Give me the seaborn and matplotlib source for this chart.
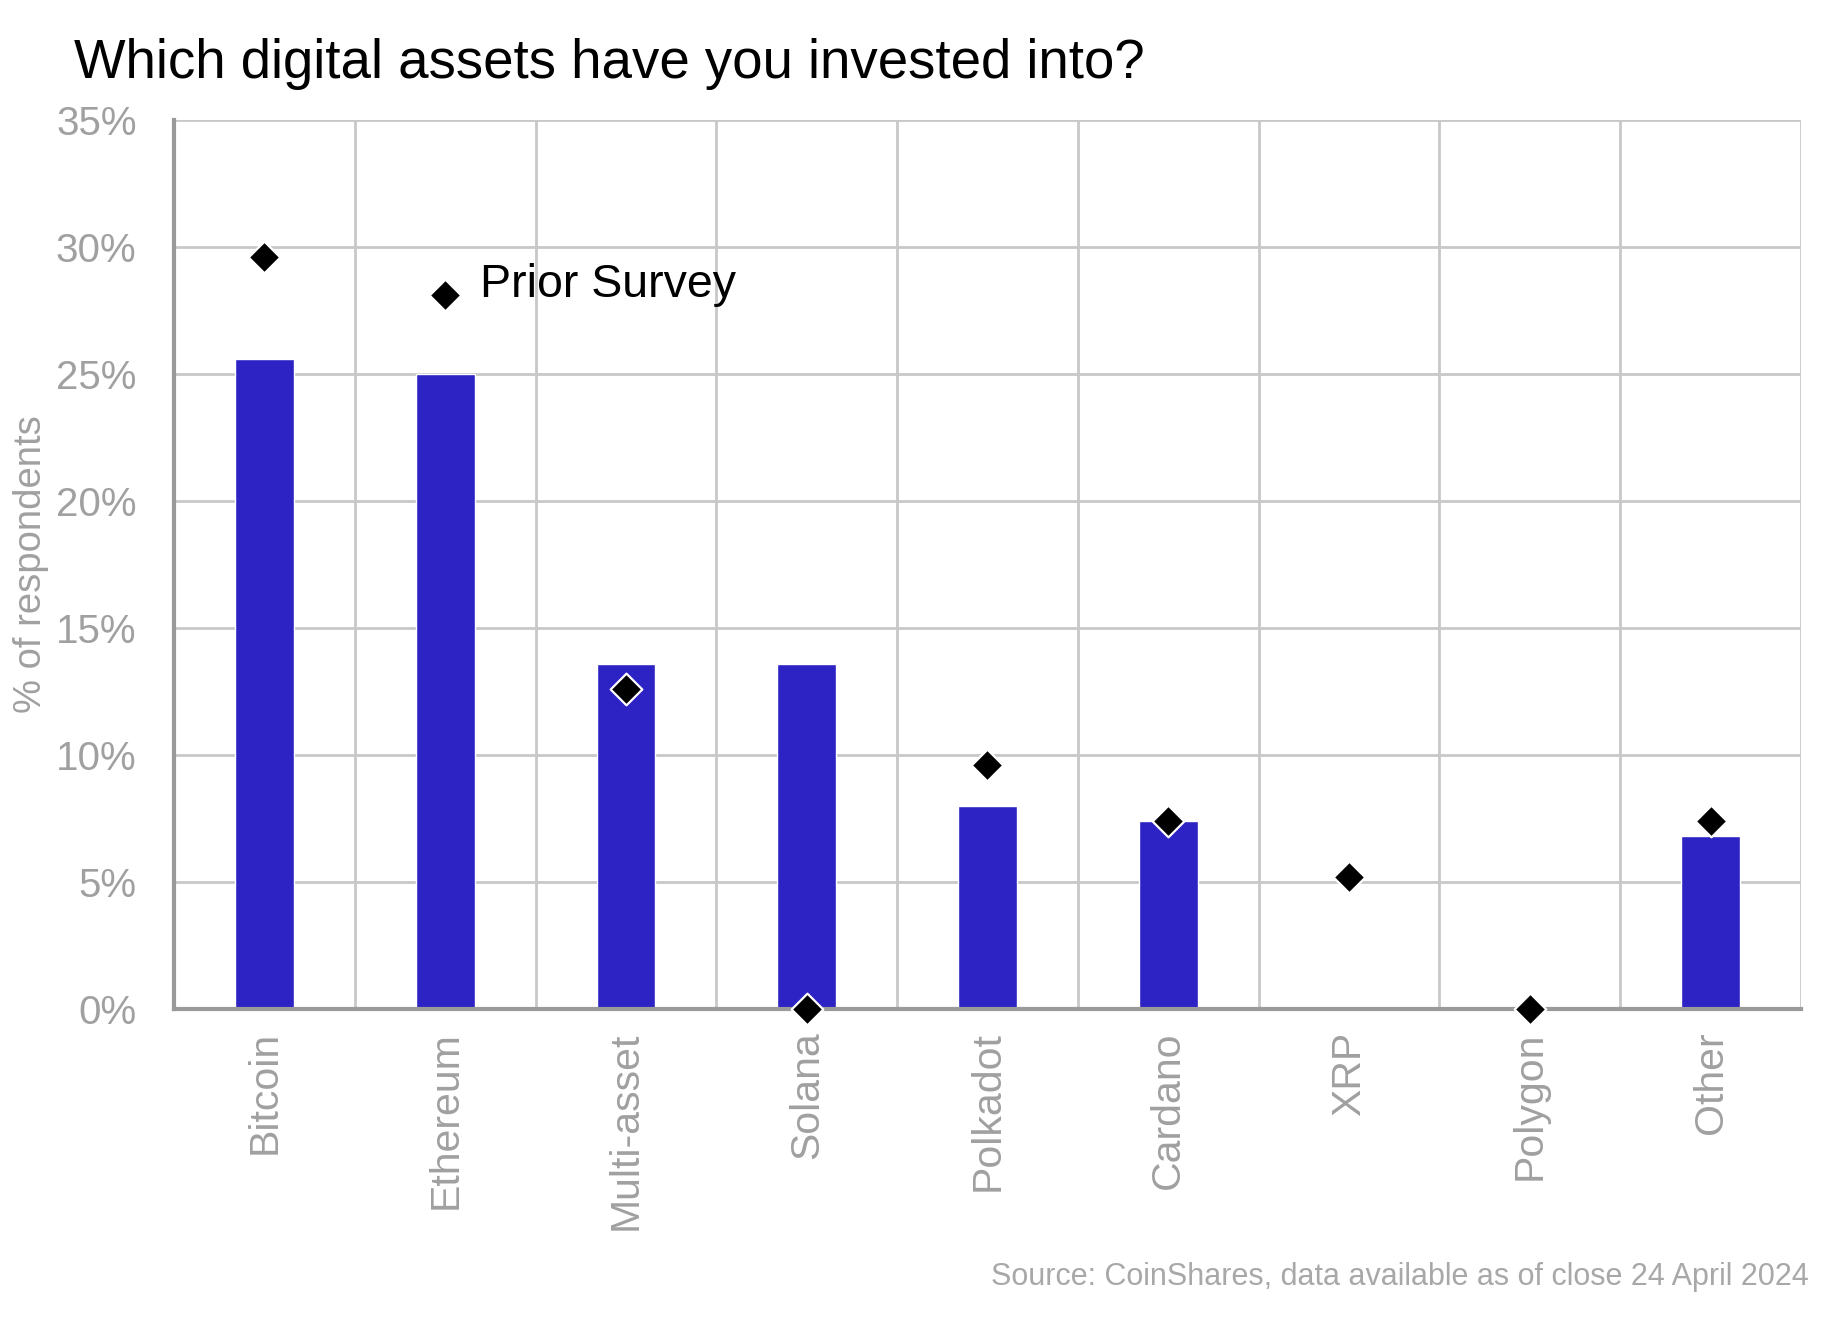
import matplotlib
matplotlib.use("Agg")
import matplotlib.pyplot as plt
import seaborn as sns
import pandas as pd
import numpy as np

categories = ["Bitcoin", "Ethereum", "Multi-asset", "Solana", "Polkadot",
              "Cardano", "XRP", "Polygon", "Other"]
current = [25.6, 25.0, 13.6, 13.6, 8.0, 7.4, 0.0, 0.0, 6.8]
prior = [29.6, 28.1, 12.6, 0.0, 9.6, 7.4, 5.2, 0.0, 7.4]
y_ticks = [0, 5, 10, 15, 20, 25, 30, 35]
y_tick_labels = [f"{v}%" for v in y_ticks]

sns.set_theme(style="white")
plt.rcParams['font.family'] = ['Liberation Sans', 'DejaVu Sans']

df = pd.DataFrame({"asset": categories, "current": current, "prior": prior})

fig = plt.figure(figsize=(18.42, 13.27), dpi=100)
ax = fig.add_axes([0.0945, 0.2396, 0.9777 - 0.0945, 0.9096 - 0.2396])

sns.barplot(data=df, x="asset", y="current", color="#2D22C4", width=0.325,
            saturation=1, ax=ax, zorder=2)
sns.scatterplot(data=df, x="asset", y="prior", marker="D", s=260,
                color="black", edgecolor="white", linewidth=1.6, ax=ax,
                zorder=4, clip_on=False)

n = len(categories)
ax.set_xlim(-0.5, n - 0.5)
ax.set_ylim(0, 35)
ax.set_yticks(y_ticks)
ax.set_yticklabels(y_tick_labels)

grid_c = "#c8c8c8"
for yv in y_ticks[1:]:
    ax.axhline(yv, color=grid_c, lw=2, zorder=1)
for xv in np.arange(0.5, n, 1.0):
    ax.axvline(xv, color=grid_c, lw=2, zorder=1)

for s in ["top", "right"]:
    ax.spines[s].set_visible(False)
for s in ["left", "bottom"]:
    ax.spines[s].set_visible(True)
    ax.spines[s].set_color("#9a9a9a")
    ax.spines[s].set_linewidth(3)
    ax.spines[s].set_zorder(3)

ax.tick_params(axis="y", length=0, pad=27, labelsize=29, labelcolor="#a0a0a0")
ax.tick_params(axis="x", length=0, pad=16, labelsize=29.5, labelcolor="#a0a0a0",
               labelrotation=90)
ax.set_xlabel("")
ax.set_ylabel("% of respondents", fontsize=27.5, color="#a0a0a0", labelpad=0)
ax.yaxis.set_label_coords(-0.077, 0.5)

ax.text(1.19, 28.5, "Prior Survey", fontsize=33.5, color="black",
        va="center", ha="left", zorder=5)

fig.text(0.040, 0.941, "Which digital assets have you invested into?",
         fontsize=39.3, color="black", va="baseline", ha="left")
fig.text(0.982, 0.032, "Source: CoinShares, data available as of close 24 April 2024",
         fontsize=22, color="#a8a8a8", va="baseline", ha="right")

fig.savefig("out.png", dpi=100, facecolor="white")
